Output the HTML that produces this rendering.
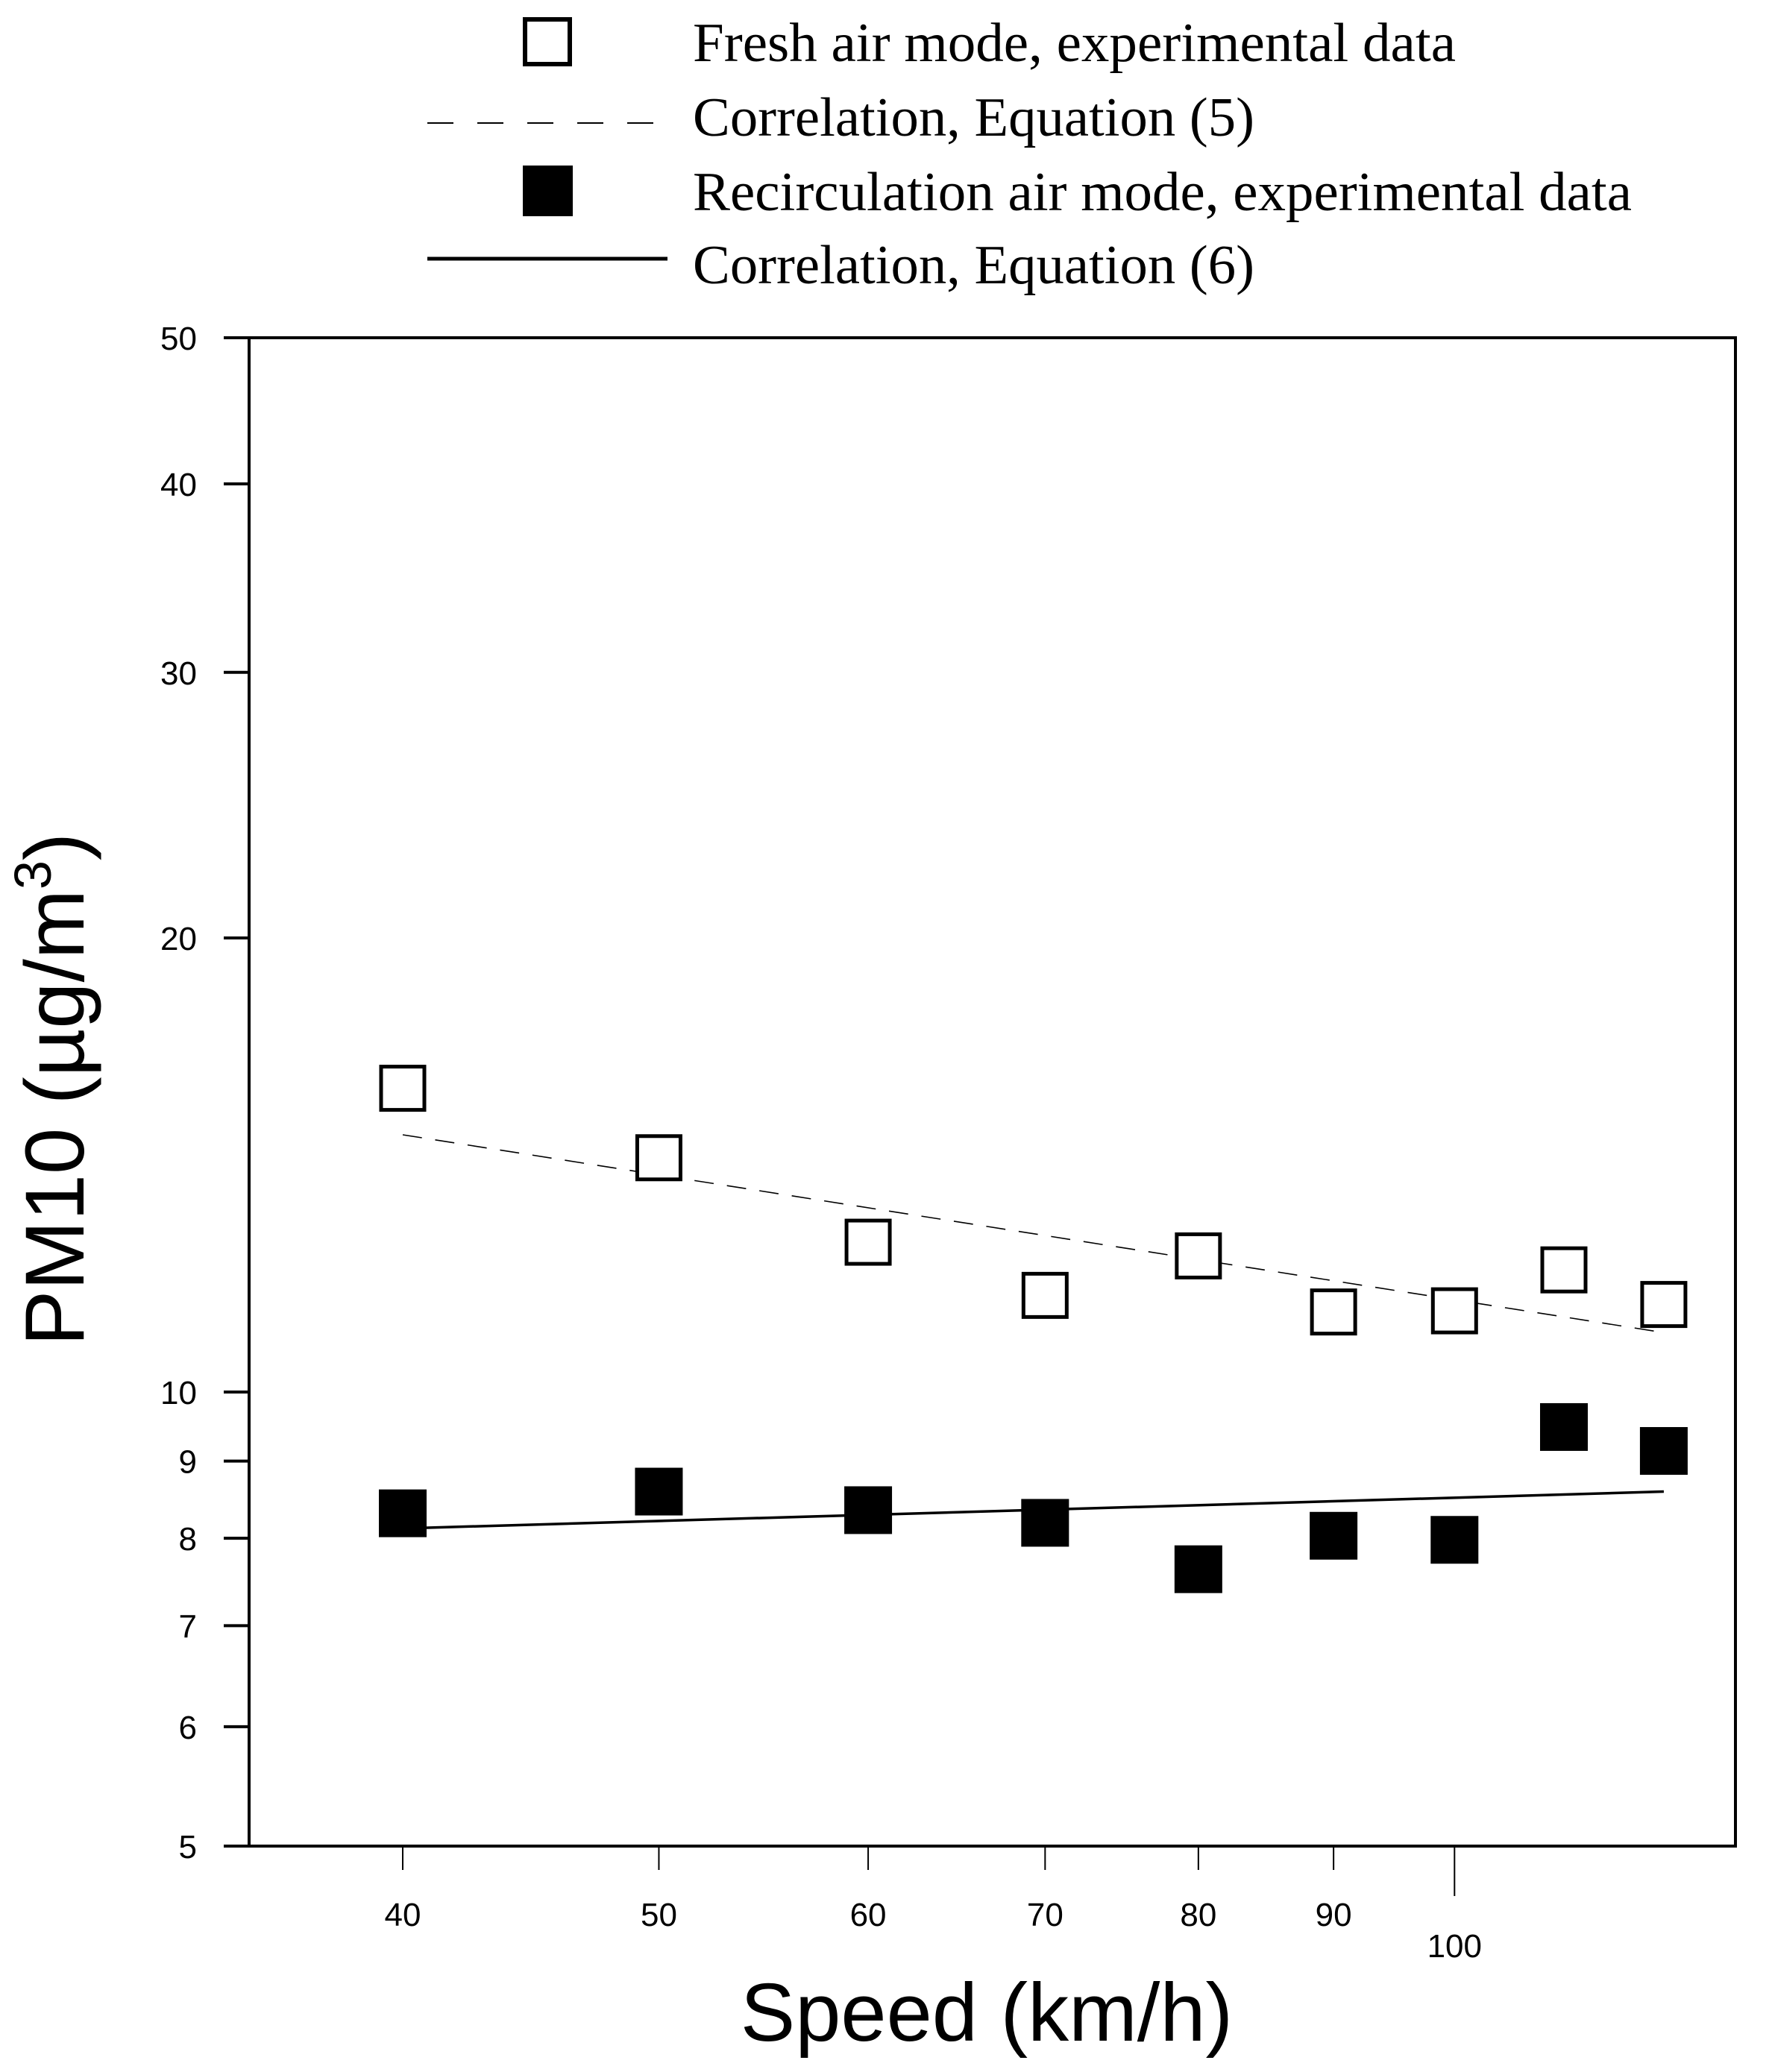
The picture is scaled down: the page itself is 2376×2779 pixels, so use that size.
<!DOCTYPE html>
<html><head><meta charset="utf-8"><style>html,body{margin:0;padding:0;background:#fff}svg{display:block}</style></head>
<body>
<svg id="chart" xmlns="http://www.w3.org/2000/svg" width="2376" height="2779" viewBox="0 0 2376 2779">
<g>
  <rect x="704" y="26" width="60" height="60" fill="#fff" stroke="#000" stroke-width="6"/>
  <text x="929" y="82" font-family="Liberation Serif, serif" font-size="74" textLength="1023" lengthAdjust="spacingAndGlyphs">Fresh air mode, experimental data</text>
  <line x1="573" y1="165" x2="895" y2="165" stroke="#000" stroke-width="2" stroke-dasharray="35 32"/>
  <text x="929" y="182" font-family="Liberation Serif, serif" font-size="74" textLength="753" lengthAdjust="spacingAndGlyphs">Correlation, Equation (5)</text>
  <rect x="701" y="222" width="67" height="68" fill="#000"/>
  <text x="929" y="282" font-family="Liberation Serif, serif" font-size="74" textLength="1259" lengthAdjust="spacingAndGlyphs">Recirculation air mode, experimental data</text>
  <line x1="573" y1="347" x2="895" y2="347" stroke="#000" stroke-width="5"/>
  <text x="929" y="380" font-family="Liberation Serif, serif" font-size="74" textLength="753" lengthAdjust="spacingAndGlyphs">Correlation, Equation (6)</text>
</g>
<rect x="334" y="453" width="1993" height="2023" fill="none" stroke="#000" stroke-width="4"/>
<g id="axes"></g>
<g id="marks"></g>
<text x="1323" y="2737" text-anchor="middle" font-family="Liberation Sans, sans-serif" font-size="110">Speed (km/h)</text>
<text transform="translate(112,1461) rotate(-90)" text-anchor="middle" font-family="Liberation Sans, sans-serif" font-size="112">PM10 (µg/m<tspan font-size="70" dy="-44">3</tspan><tspan dy="44">)</tspan></text>
</svg>
<script>
const xTicks = [40, 50, 60, 70, 80, 90, 100];
const yTicks = [50, 40, 30, 20, 10, 9, 8, 7, 6, 5];
const speeds = [40, 50, 60, 70, 80, 90, 100, 110, 120];
const freshValues = [15.9, 14.3, 12.57, 11.59, 12.31, 11.30, 11.32, 12.05, 11.43];
const recircValues = [8.31, 8.59, 8.35, 8.19, 7.63, 8.03, 7.98, 9.48, 9.14];
const eq5Speeds = [40, 120];
const eq5Values = [14.81, 10.95];
const eq6Speeds = [40, 120];
const eq6Values = [8.12, 8.59];

const NS = 'http://www.w3.org/2000/svg';
const X = v => 540 + 3544 * Math.log10(v / 40);
const Y = v => 453 + 2023 * Math.log10(50 / v);
function mk(tag, attrs, parent, txt) {
  const e = document.createElementNS(NS, tag);
  for (const k in attrs) e.setAttribute(k, attrs[k]);
  if (txt !== undefined) e.textContent = txt;
  parent.appendChild(e);
  return e;
}
const axes = document.getElementById('axes');
const marks = document.getElementById('marks');
xTicks.forEach(t => {
  const x = X(t);
  const big = t === 100;
  const l = mk('line', {x1: x, y1: 2476, x2: x, y2: big ? 2543 : 2508, stroke: '#000', 'stroke-width': 2}, axes);
  
  
  const tx = mk('text', {x: x, y: big ? 2625 : 2583, 'text-anchor': 'middle', 'font-family': 'Liberation Sans, sans-serif', 'font-size': 44}, axes, String(t));
  
  
});
yTicks.forEach(t => {
  const y = Y(t);
  const l = mk('line', {x1: 300, y1: y, x2: 334, y2: y, stroke: '#000', 'stroke-width': 4}, axes);
  
  
  const tx = mk('text', {x: 264, y: y + 16, 'text-anchor': 'end', 'font-family': 'Liberation Sans, sans-serif', 'font-size': 44}, axes, String(t));
  
  
});
const l5 = mk('polyline', {points: eq5Speeds.map((s, i) => X(s) + ',' + Y(eq5Values[i])).join(' '), fill: 'none', stroke: '#000', 'stroke-width': 1.6, 'stroke-dasharray': '26 18'}, marks);


const l6 = mk('polyline', {points: eq6Speeds.map((s, i) => X(s) + ',' + Y(eq6Values[i])).join(' '), fill: 'none', stroke: '#000', 'stroke-width': 3.5}, marks);


speeds.forEach((s, i) => {
  const r = mk('rect', {x: X(s) - 29, y: Y(freshValues[i]) - 29, width: 58, height: 58, fill: '#fff', stroke: '#000', 'stroke-width': 5}, marks);
  
  
  const f = mk('rect', {x: X(s) - 32, y: Y(recircValues[i]) - 32, width: 64, height: 64, fill: '#000'}, marks);
  
  
});
</script>
</body></html>
